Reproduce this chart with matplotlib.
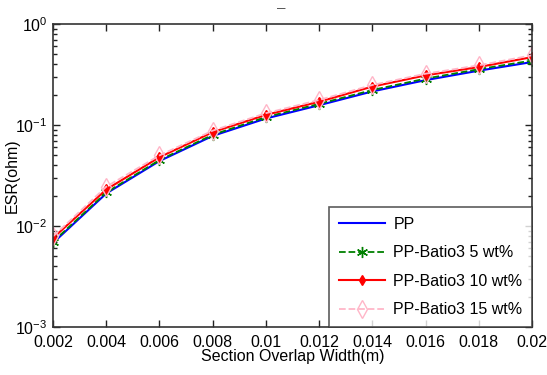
import matplotlib
matplotlib.use("Agg")
import matplotlib.pyplot as plt
from matplotlib.ticker import LogLocator, FixedLocator

plt.rcParams['font.family'] = ['Liberation Sans', 'DejaVu Sans']
plt.rcParams['mathtext.fontset'] = 'custom'
plt.rcParams['mathtext.rm'] = 'Liberation Sans'
plt.rcParams['mathtext.it'] = 'Liberation Sans'

width = [0.002, 0.004, 0.006, 0.008, 0.010, 0.012, 0.014, 0.016, 0.018, 0.020]
esr_pp = [0.0068, 0.021, 0.044, 0.078, 0.116, 0.157, 0.215, 0.278, 0.345, 0.420]
esr_5 = [0.0070, 0.0215, 0.045, 0.080, 0.120, 0.162, 0.222, 0.288, 0.357, 0.435]
esr_10 = [0.0076, 0.023, 0.048, 0.085, 0.126, 0.170, 0.240, 0.310, 0.375, 0.470]
esr_15 = [0.0079, 0.0245, 0.050, 0.088, 0.131, 0.177, 0.249, 0.322, 0.390, 0.490]
labels = ['PP', 'PP-Batio3 5 wt%', 'PP-Batio3 10 wt%', 'PP-Batio3 15 wt%']
xticks = [0.002, 0.004, 0.006, 0.008, 0.01, 0.012, 0.014, 0.016, 0.018, 0.02]
xticklabels = ['0.002', '0.004', '0.006', '0.008', '0.01', '0.012', '0.014', '0.016', '0.018', '0.02']

fig = plt.figure(figsize=(5.47, 3.75), dpi=100)
ax = fig.add_axes([0.097, 0.128, 0.8756, 0.808])

ax.plot(width, esr_pp, '-', color='#0000ff', lw=1.5, label=labels[0])
ax.plot(width, esr_5, '--', color='#008000', lw=1.3, marker=(6, 2, 0), ms=8,
        mfc='#008000', mec='#008000', mew=1.0, label=labels[1])
ax.plot(width, esr_10, '-', color='#ff0000', lw=1.5, marker='d', ms=5,
        mfc='#ff0000', mec='#ff0000', label=labels[2])
ax.plot(width, esr_15, '--', color='#ffb6c8', lw=1.3, marker='d', ms=9,
        mfc='none', mec='#ffb6c8', label=labels[3])

ax.set_yscale('log')
ax.set_ylim(1e-3, 1)
ax.set_xlim(0.002, 0.02)
ax.xaxis.set_major_locator(FixedLocator(xticks))
ax.set_xticklabels(xticklabels)
ax.yaxis.set_major_locator(LogLocator(base=10, numticks=10))
ax.yaxis.set_minor_locator(LogLocator(base=10, subs=range(2, 10), numticks=10))
ax.yaxis.set_minor_formatter(matplotlib.ticker.NullFormatter())

ax.tick_params(which='both', direction='in', top=True, right=True, labelsize=11.5,
               colors='#222222', labelcolor='black', width=1)
ax.tick_params(which='major', length=5, pad=4)
ax.tick_params(which='minor', length=3)
ax.tick_params(axis='x', which='major', pad=6)
for s in ax.spines.values():
    s.set_linewidth(1.2)
    s.set_color('#333333')

ax.set_xlabel('Section Overlap Width(m)', fontsize=11.5, labelpad=-1)
ax.set_ylabel('ESR(ohm)', fontsize=11.5, va='center')
ax.yaxis.set_label_coords(-0.085, 0.5)

leg = ax.legend(loc='lower right', borderaxespad=0, fontsize=11.5, frameon=True,
                fancybox=False, edgecolor='#333333', handlelength=2.9,
                handletextpad=0.5, labelspacing=0.85, borderpad=0.6)
leg.get_frame().set_linewidth(1.2)

fig.text(0.515, 0.978, '\u2013', ha='center', va='center', fontsize=11, color='#555555')

fig.savefig('out.png', dpi=100)
